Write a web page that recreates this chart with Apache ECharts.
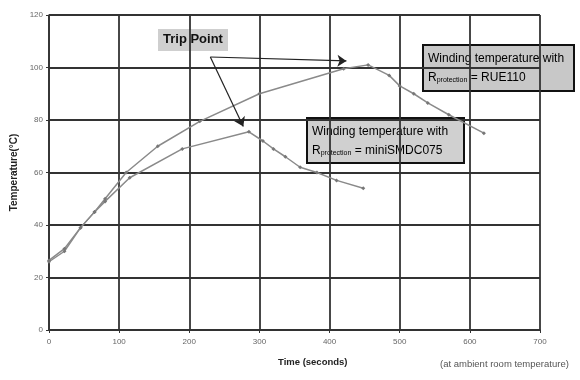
<!DOCTYPE html>
<html><head><meta charset="utf-8">
<script src="https://cdn.jsdelivr.net/npm/echarts@6/dist/echarts.min.js"></script>
<style>html,body{margin:0;padding:0;background:#fff}#c{width:580px;height:380px}</style>
</head><body><div id="c"></div>
<script>
const rueTime = [0, 22, 45, 65, 80, 110, 155, 215, 300, 420, 455, 485, 500, 520, 540, 570, 620];
const rueTemp = [26.5, 31, 39, 45, 50, 60, 70, 79.5, 90, 99.5, 101, 97, 93, 90, 86.5, 82, 75];
const smdcTime = [0, 22, 45, 65, 80, 115, 190, 285, 305, 320, 337, 358, 382, 410, 448];
const smdcTemp = [26, 30, 39, 45, 49, 58, 69, 75.5, 72, 69, 66, 62, 60, 57, 54];
const xTicks = [0, 100, 200, 300, 400, 500, 600, 700];
const yTicks = [0, 20, 40, 60, 80, 100, 120];
const tripStart = [230, 104];
const tripEnds = [[424, 102.5], [277, 77.5]];

const zip = (a, b) => a.map((v, i) => [v, b[i]]);
const font = 'Liberation Sans, Arial, sans-serif';
const chart = echarts.init(document.getElementById('c'));
const lineStyle = {color: '#8a8a8a', width: 1.5};
const sub = {
  a: {fontSize: 12, fontFamily: font, color: '#111'},
  s: {fontSize: 7, fontFamily: font, color: '#111', padding: [6, 0, 0, 0]}
};
chart.setOption({
  animation: false,
  grid: {left: 49, right: 40, top: 15, bottom: 50},
  xAxis: {
    type: 'value', min: xTicks[0], max: xTicks[xTicks.length - 1], interval: 100,
    axisLine: {show: true, lineStyle: {color: '#333', width: 1.5}},
    axisTick: {show: true, length: 3, lineStyle: {color: '#333'}},
    axisLabel: {fontSize: 8, color: '#666', fontFamily: font, margin: 8},
    splitLine: {show: true, lineStyle: {color: '#333', width: 1.8}}
  },
  yAxis: {
    type: 'value', min: yTicks[0], max: yTicks[yTicks.length - 1], interval: 20,
    name: 'Temperature(°C)', nameLocation: 'middle', nameGap: 27,
    nameTextStyle: {fontSize: 10, fontWeight: 'bold', color: '#222', fontFamily: font},
    axisLine: {show: true, lineStyle: {color: '#333', width: 1.5}},
    axisTick: {show: true, length: 3, lineStyle: {color: '#333'}},
    axisLabel: {fontSize: 8, color: '#666', fontFamily: font, margin: 6},
    splitLine: {show: true, lineStyle: {color: '#333', width: 1.8}}
  },
  series: [
    {
      type: 'line', data: zip(rueTime, rueTemp), symbol: 'diamond', symbolSize: 4,
      lineStyle: lineStyle, itemStyle: {color: '#777'},
      markLine: {
        silent: true, symbol: ['none', 'arrow'], symbolSize: 9,
        lineStyle: {color: '#222', width: 1.2, type: 'solid'}, label: {show: false},
        data: tripEnds.map(e => [{coord: tripStart}, {coord: e}])
      }
    },
    {
      type: 'line', data: zip(smdcTime, smdcTemp), symbol: 'diamond', symbolSize: 4,
      lineStyle: lineStyle, itemStyle: {color: '#777'}
    }
  ],
  graphic: [
    {type: 'rect', shape: {x: 158, y: 29, width: 70, height: 22},
      style: {fill: '#cfcfcf', stroke: null}},
    {type: 'text', x: 163, y: 33, style: {text: 'Trip Point', font: 'bold 13px ' + font, fill: '#111'}},
    {type: 'rect', shape: {x: 423, y: 45, width: 151, height: 46},
      style: {fill: '#c8c8c8', stroke: '#111', lineWidth: 2}},
    {type: 'text', x: 428, y: 49, style: {
      text: '{a|Winding temperature with}\n{a|R}{s|protection}{a| = RUE110}',
      rich: sub, lineHeight: 19}},
    {type: 'rect', shape: {x: 307, y: 118, width: 157, height: 45},
      style: {fill: '#d0d0d0', stroke: '#111', lineWidth: 2}},
    {type: 'text', x: 312, y: 122, style: {
      text: '{a|Winding temperature with}\n{a|R}{s|protection}{a| = miniSMDC075}',
      rich: sub, lineHeight: 19}},
    {type: 'text', x: 278, y: 357, style: {text: 'Time (seconds)', font: 'bold 9.5px ' + font, fill: '#222'}},
    {type: 'text', x: 440, y: 359, style: {text: '(at ambient room temperature)', font: '9.5px ' + font, fill: '#555'}}
  ]
});
</script></body></html>
